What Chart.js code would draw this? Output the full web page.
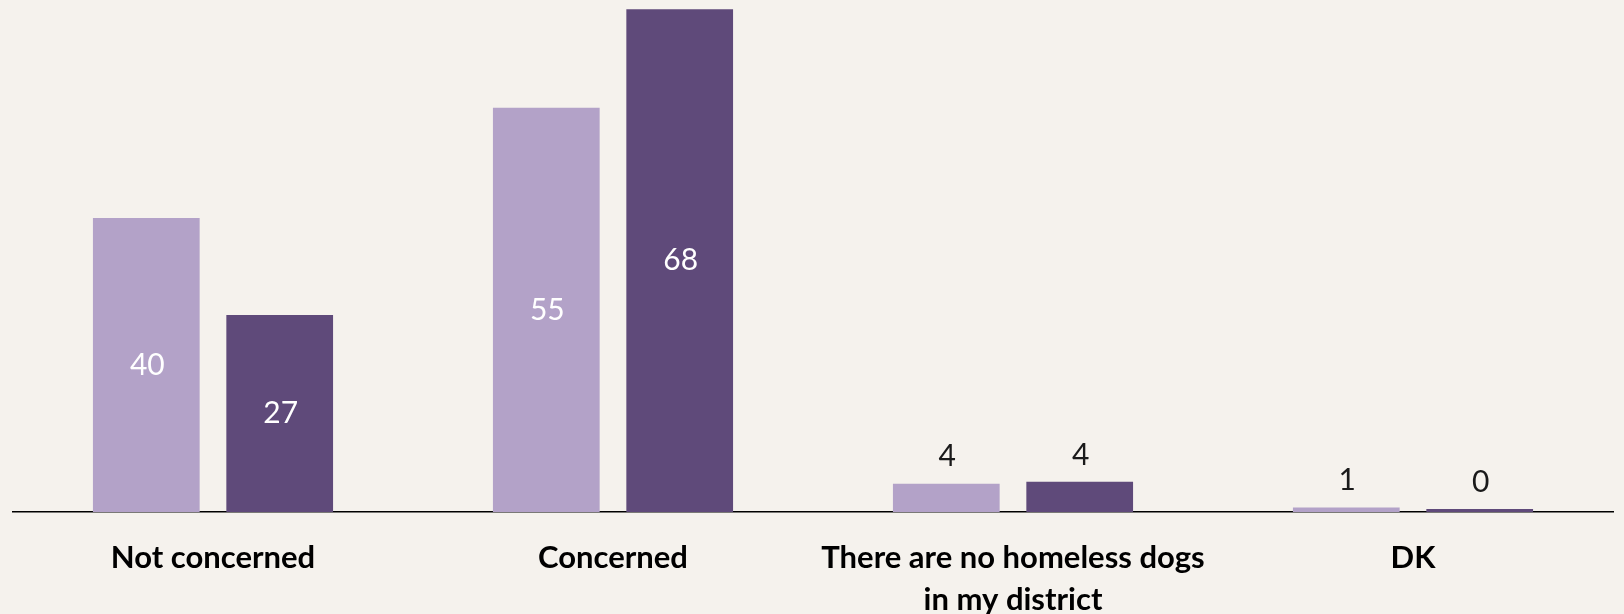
<!DOCTYPE html>
<html>
<head>
<meta charset="utf-8">
<script src="https://cdn.jsdelivr.net/npm/chart.js@4.4.1/dist/chart.umd.min.js"></script>
<style>
  body { margin: 0; background: #F5F2ED; }
  #wrap { width: 1624px; height: 614px; }
</style>
</head>
<body>
<div id="wrap"><canvas id="barChart"></canvas></div>
<script>
// Datos del gráfico
const categories = ['Not concerned', 'Concerned', ['There are no homeless dogs', 'in my district'], 'DK'];
const seriesLight = [40, 55, 3.85, 0.6];
const seriesDark = [26.8, 68.4, 4.1, 0.4];

// Etiquetas de valor dibujadas sobre cada barra
const valueLabels = {
    id: 'valueLabels',
    afterDatasetsDraw(chart) {
        const ctx = chart.ctx;
        ctx.save();
        ctx.font = '30px Lato, "Open Sans", sans-serif';
        ctx.textAlign = 'center';
        chart.data.datasets.forEach((ds, i) => {
            chart.getDatasetMeta(i).data.forEach((bar, j) => {
                const v = ds.data[j];
                const txt = String(Math.round(v));
                if (v > 10) {
                    // dentro de la barra, centrado
                    ctx.fillStyle = '#ffffff';
                    ctx.textBaseline = 'middle';
                    ctx.fillText(txt, bar.x + 1, (bar.y + bar.base) / 2);
                } else {
                    // encima de la barra
                    ctx.fillStyle = '#1a1a1a';
                    ctx.textBaseline = 'bottom';
                    ctx.fillText(txt, bar.x + 1, bar.y - 12);
                }
            });
        });
        ctx.restore();
    }
};

new Chart(document.getElementById('barChart'), {
    type: 'bar',
    data: {
        labels: categories,
        datasets: [{
            data: seriesLight,
            backgroundColor: '#B3A2C8',
            barPercentage: 0.8,
            categoryPercentage: 0.667
        }, {
            data: seriesDark,
            backgroundColor: '#5F4A7A',
            barPercentage: 0.8,
            categoryPercentage: 0.667
        }]
    },
    options: {
        responsive: true,
        maintainAspectRatio: false,
        animation: false,
        layout: { padding: { left: 13, right: 11, top: 0, bottom: 0 } },
        plugins: {
            legend: { display: false },
            tooltip: { enabled: false }
        },
        scales: {
            x: {
                grid: { display: false },
                border: { display: true, color: '#000000', width: 1.5 },
                ticks: {
                    color: '#000000',
                    padding: 17,
                    maxRotation: 0,
                    autoSkip: false,
                    font: { family: 'Lato, "Open Sans", sans-serif', size: 31, weight: 'bold', lineHeight: 1.36 }
                },
                afterFit: s => { s.height = 102; }
            },
            y: {
                display: false,
                min: 0,
                max: 69.66
            }
        }
    },
    plugins: [valueLabels]
});
</script>
</body>
</html>
